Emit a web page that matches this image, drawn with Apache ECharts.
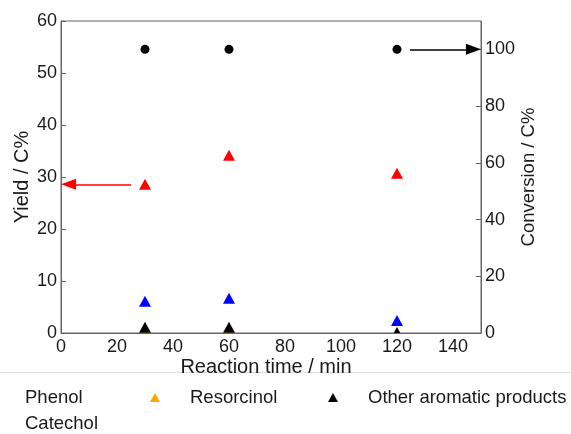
<!DOCTYPE html>
<html><head><meta charset="utf-8">
<script src="https://cdn.jsdelivr.net/npm/echarts@6/dist/echarts.min.js"></script>
<style>html,body{margin:0;padding:0;background:#fff}#c{width:571px;height:434px}</style>
</head><body><div id="c"></div>
<script>
const times = [30, 60, 120];
const phenol = [28.6, 34.2, 30.7];
const catechol = [6.1, 6.7, 2.4];
const resorcinol = [0, 0, 0];
const otherArom = [1.1, 1.1, 0.1];
const conversion = [100, 100, 100];
const xTicks = [0, 20, 40, 60, 80, 100, 120, 140];
const yLeftTicks = [0, 10, 20, 30, 40, 50, 60];
const yRightTicks = [0, 20, 40, 60, 80, 100];
// annotation arrows (tail -> head centre), in data units
const redArrow = [[25, 28.6], [2.7, 28.6]];
const blackArrow = [[124.6, 100], [147.3, 100]];

const F = 'Liberation Sans, Arial, sans-serif';
const txt = '#1a1a1a';
const axisCol = '#666';
const pairs = a => times.map((t, i) => [t, a[i]]);

const chart = echarts.init(document.getElementById('c'), null, {renderer: 'canvas'});
const legendItem = (name, left, top, pad) => ({
  data: [name], left: left, top: top,
  icon: 'triangle', itemWidth: 10, itemHeight: 9, orient: 'horizontal',
  textStyle: {fontSize: 18.5, color: txt, fontFamily: F, padding: [0, 0, 0, pad]}
});
chart.setOption({
  animation: false,
  grid: {left: 61, right: 90, top: 21, bottom: 101, show: true, borderColor: axisCol, borderWidth: 1,
         backgroundColor: 'transparent', containLabel: false, outerBoundsMode: 'none'},
  xAxis: {
    type: 'value', min: 0, max: 150, interval: 10, z: 5,
    name: 'Reaction time / min', nameLocation: 'middle', nameGap: 24, nameMoveOverlap: false,
    nameTextStyle: {fontSize: 20, color: txt, fontFamily: F, padding: [0, 10, 0, 0]},
    axisLine: {lineStyle: {color: axisCol}},
    axisTick: {show: false},
    splitLine: {show: false},
    axisLabel: {customValues: xTicks, fontSize: 18, color: txt, fontFamily: F, margin: 5}
  },
  yAxis: [{
    type: 'value', min: 0, max: 60, interval: 10, position: 'left',
    name: 'Yield / C%', nameLocation: 'middle', nameGap: 29, nameRotate: 90, nameMoveOverlap: false,
    nameTextStyle: {fontSize: 20, color: txt, fontFamily: F},
    axisLine: {show: true, lineStyle: {color: axisCol}},
    axisTick: {show: true, inside: true, length: 5, lineStyle: {color: axisCol}, customValues: yLeftTicks},
    splitLine: {show: false},
    axisLabel: {customValues: yLeftTicks, fontSize: 18, color: txt, fontFamily: F, margin: 4}
  }, {
    type: 'value', min: 0, max: 110, interval: 10, position: 'right',
    name: 'Conversion / C%', nameLocation: 'middle', nameGap: 38, nameRotate: 90, nameMoveOverlap: false,
    nameTextStyle: {fontSize: 18.5, color: txt, fontFamily: F},
    axisLine: {show: true, lineStyle: {color: axisCol}},
    axisTick: {show: true, inside: true, length: 5, lineStyle: {color: axisCol}, customValues: yRightTicks},
    splitLine: {show: false},
    axisLabel: {customValues: yRightTicks, fontSize: 18, color: txt, fontFamily: F, margin: 4}
  }],
  legend: [
    legendItem('Phenol', -20, 383, 25),
    legendItem('Resorcinol', 145, 383, 25),
    legendItem('Other aromatic products', 323, 383, 25),
    legendItem('Catechol', -20, 409, 25)
  ],
  graphic: [{
    type: 'line', shape: {x1: 0, y1: 372.5, x2: 571, y2: 372.5},
    style: {stroke: '#dddddd', lineWidth: 1}, silent: true
  }, {
    type: 'rect', shape: {x: 62, y: 334, width: 418, height: 8}, z: 4,
    style: {fill: '#ffffff'}, silent: true
  }],
  series: [
    {name: 'Conversion', type: 'scatter', yAxisIndex: 1, symbol: 'circle', symbolSize: 9,
     itemStyle: {color: '#000', opacity: 1}, data: pairs(conversion), clip: false,
     markLine: {silent: true, symbol: ['none', 'triangle'], symbolSize: [11, 15],
       lineStyle: {color: '#000', width: 1.5, type: 'solid'}, label: {show: false},
       data: [[{coord: blackArrow[0]}, {coord: blackArrow[1]}]]}},
    {name: 'Phenol', type: 'scatter', symbol: 'triangle', symbolSize: [12, 11],
     itemStyle: {color: '#ff0000', opacity: 1}, data: pairs(phenol), clip: false,
     markLine: {silent: true, symbol: ['none', 'triangle'], symbolSize: [11, 15],
       lineStyle: {color: '#ff0000', width: 1.5, type: 'solid'}, label: {show: false},
       data: [[{coord: redArrow[0]}, {coord: redArrow[1]}]]}},
    {name: 'Catechol', type: 'scatter', symbol: 'triangle', symbolSize: [12, 11],
     itemStyle: {color: '#0000ff', opacity: 1}, data: pairs(catechol), clip: false},
    {name: 'Resorcinol', type: 'scatter', symbol: 'triangle', symbolSize: [12, 11],
     itemStyle: {color: '#ffa500', opacity: 1}, data: pairs(resorcinol), clip: false},
    {name: 'Other aromatic products', type: 'scatter', symbol: 'triangle', symbolSize: [12, 11],
     itemStyle: {color: '#000', opacity: 1}, data: pairs(otherArom), clip: false}
  ]
});
</script></body></html>
